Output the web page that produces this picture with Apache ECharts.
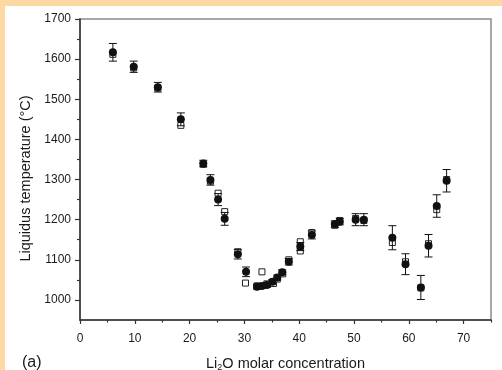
<!DOCTYPE html>
<html>
<head>
<meta charset="utf-8">
<script src="https://cdn.jsdelivr.net/npm/echarts@6/dist/echarts.min.js"></script>
<style>
  html, body { margin: 0; padding: 0; background: #fff; }
  #chart {
    width: 502px; height: 370px;
    background:
      linear-gradient(#fcd9a3, #fcd9a3) top left / 100% 6px no-repeat,
      linear-gradient(#fcd9a3, #fcd9a3) top left / 5px 100% no-repeat,
      #fff;
  }
</style>
</head>
<body>
<div id="chart"></div>
<script>
// filled circles (with error bars)
const circleX = [6.0, 9.8, 14.2, 18.4, 22.5, 23.8, 25.2, 26.4, 28.8, 30.3, 32.3, 33.2, 34.1, 35.1, 36.0, 36.9, 38.1, 40.2, 42.3, 46.5, 47.4, 50.3, 51.8, 57.0, 59.4, 62.2, 63.6, 65.1, 66.9];
const circleY = [1617, 1581, 1530, 1450, 1340, 1299, 1250, 1202, 1114, 1070, 1033, 1035, 1037, 1045, 1056, 1069, 1095, 1133, 1162, 1189, 1195, 1200, 1200, 1155, 1089, 1031, 1135, 1234, 1297];
const circleErr = [22, 14, 12, 16, 8, 13, 15, 16, 12, 12, 6, 6, 6, 6, 6, 6, 8, 10, 10, 8, 8, 15, 15, 30, 26, 30, 28, 28, 28];
// open squares
const squareX = [6.0, 9.8, 14.2, 18.4, 22.5, 23.8, 25.2, 26.4, 28.8, 30.2, 32.3, 33.2, 34.1, 35.3, 36.0, 37.0, 38.1, 40.2, 40.2, 42.3, 46.5, 47.4, 50.3, 51.8, 57.0, 59.4, 62.2, 63.6, 65.1, 66.9];
const squareY = [1612, 1578, 1528, 1435, 1338, 1296, 1266, 1220, 1120, 1042, 1035, 1070, 1040, 1041, 1052, 1065, 1100, 1122, 1145, 1168, 1186, 1198, 1203, 1198, 1143, 1095, 1030, 1140, 1225, 1300];

const xLabels = [0, 10, 20, 30, 40, 50, 60, 70];
const xMinor = [5, 15, 25, 35, 45, 55, 65, 75];
const yLabels = [1000, 1100, 1200, 1300, 1400, 1500, 1600, 1700];
const yMinor = [1050, 1150, 1250, 1350, 1450, 1550, 1650];

const font = 'Liberation Sans, Arial, Helvetica, sans-serif';
const ink = '#1a1a1a';

const chart = echarts.init(document.getElementById('chart'));

const errData = circleX.map((x, i) => [x, circleY[i] - circleErr[i], circleY[i] + circleErr[i]]);

chart.setOption({
  animation: false,
  grid: {
    left: 80, right: 11, top: 19, bottom: 50,
    outerBoundsMode: 'none', containLabel: false,
    show: true, borderColor: '#8a8a8a', borderWidth: 1.5
  },
  xAxis: [
    {
      type: 'value', min: 0, max: 75, position: 'bottom',
      name: '{n|Li}{s|2}{n|O molar concentration}',
      nameLocation: 'middle', nameGap: 35,
      nameTextStyle: {
        rich: {
          n: { fontFamily: font, fontSize: 14.5, color: ink },
          s: { fontFamily: font, fontSize: 9, color: ink, padding: [8, 0, 0, 0] }
        }
      },
      axisLine: { lineStyle: { color: '#333', width: 1.5 } },
      axisTick: { customValues: xLabels, length: 4, lineStyle: { color: '#333', width: 1.2 } },
      axisLabel: { customValues: xLabels, fontFamily: font, fontSize: 12, color: ink, margin: 13 },
      splitLine: { show: false }
    },
    {
      type: 'value', min: 0, max: 75, position: 'bottom', offset: 0,
      axisLine: { show: false },
      axisTick: { customValues: xMinor, length: 2.5, lineStyle: { color: '#333', width: 1.2 } },
      axisLabel: { show: false },
      splitLine: { show: false }
    }
  ],
  yAxis: [
    {
      type: 'value', min: 950, max: 1700, position: 'left',
      name: 'Liquidus temperature (°C)',
      nameLocation: 'middle', nameGap: 40,
      nameTextStyle: { fontFamily: font, fontSize: 14.5, color: ink, padding: [0, 18, 0, 0] },
      axisLine: { show: true, lineStyle: { color: '#333', width: 1.5 } },
      axisTick: { show: true, customValues: yLabels, length: 5, lineStyle: { color: '#333', width: 1.2 } },
      axisLabel: { customValues: yLabels, formatter: v => String(v), fontFamily: font, fontSize: 12, color: ink, margin: 9 },
      splitLine: { show: false }
    },
    {
      type: 'value', min: 950, max: 1700, position: 'left', offset: 0,
      axisLine: { show: false },
      axisTick: { show: true, customValues: yMinor, length: 3, lineStyle: { color: '#333', width: 1.2 } },
      axisLabel: { show: false },
      splitLine: { show: false }
    }
  ],
  graphic: [
    { type: 'text', left: 22, top: 355, style: { text: '(a)', font: '16px ' + font, fill: ink } }
  ],
  series: [
    {
      type: 'scatter', name: 'squares',
      data: squareX.map((x, i) => [x, squareY[i]]),
      symbol: 'rect', symbolSize: 6,
      itemStyle: { color: '#fff', borderColor: '#222', borderWidth: 1, opacity: 1 },
      z: 2
    },
    {
      type: 'custom', name: 'errors',
      data: errData,
      renderItem: (params, api) => {
        const x = api.value(0);
        const top = api.coord([x, api.value(2)]);
        const bot = api.coord([x, api.value(1)]);
        const w = 4;
        const st = { stroke: '#111', lineWidth: 1 };
        return {
          type: 'group',
          children: [
            { type: 'line', shape: { x1: top[0], y1: top[1], x2: bot[0], y2: bot[1] }, style: st },
            { type: 'line', shape: { x1: top[0] - w, y1: top[1], x2: top[0] + w, y2: top[1] }, style: st },
            { type: 'line', shape: { x1: bot[0] - w, y1: bot[1], x2: bot[0] + w, y2: bot[1] }, style: st }
          ]
        };
      },
      z: 3
    },
    {
      type: 'scatter', name: 'circles',
      data: circleX.map((x, i) => [x, circleY[i]]),
      symbol: 'circle', symbolSize: 8,
      itemStyle: { color: '#111', opacity: 1 },
      z: 4
    }
  ]
});
</script>
</body>
</html>
